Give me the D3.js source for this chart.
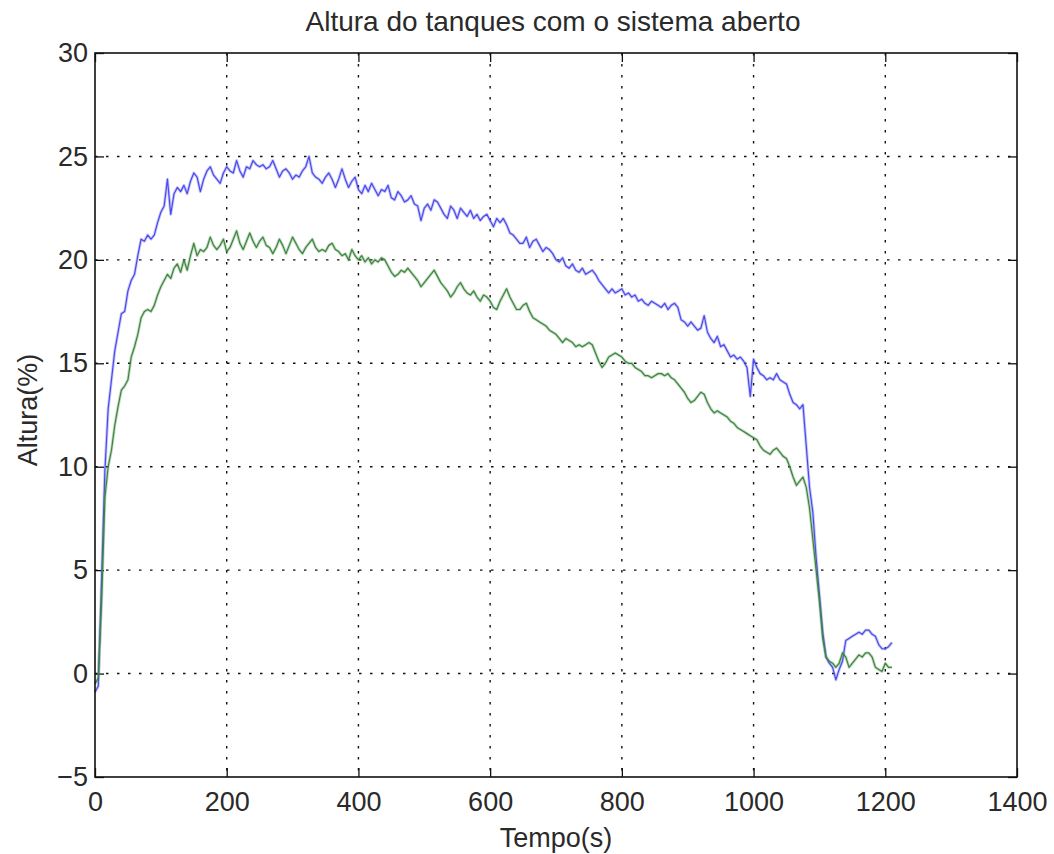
<!DOCTYPE html>
<html>
<head>
<meta charset="utf-8">
<script src="https://cdn.jsdelivr.net/npm/d3@7"></script>
<style>
  html, body { margin: 0; padding: 0; background: #fff; }
  svg { display: block; font-family: "Liberation Sans", Arial, sans-serif; }
</style>
</head>
<body>
<svg id="chart" width="1054" height="854"></svg>
<script>
// Tank level logged every 5 s while the system runs open loop
const sampleStep = 5;

// Tank 1 level (%), one reading per sample
const tank1Level = [
  -0.9, -0.6, 4.5, 9.8, 12.8, 14.2, 15.6, 16.5, 17.4, 17.5,
  18.5, 19.0, 19.3, 20.2, 21.0, 20.9, 21.2, 21.0, 21.2, 21.8,
  22.3, 22.6, 23.9, 22.2, 23.2, 23.5, 23.3, 23.6, 23.2, 23.8,
  24.2, 24.0, 23.3, 23.9, 24.3, 24.5, 24.1, 23.9, 23.7, 24.2,
  24.5, 24.3, 24.2, 24.8, 24.3, 24.0, 24.5, 24.4, 24.8, 24.6,
  24.5, 24.6, 24.4, 24.5, 24.8, 24.4, 24.0, 24.3, 24.4, 24.2,
  23.9, 24.1, 24.0, 24.3, 24.5, 25.0, 24.2, 24.0, 23.9, 23.7,
  24.0, 24.2, 23.9, 23.5, 23.9, 24.4, 23.9, 23.5, 23.8, 24.0,
  23.4, 23.2, 23.6, 23.3, 23.7, 23.4, 23.1, 23.4, 23.3, 23.6,
  23.0, 22.9, 23.3, 23.1, 22.8, 22.9, 23.1, 22.7, 22.6, 21.9,
  22.5, 22.7, 22.4, 22.9, 22.8, 22.5, 22.2, 22.0, 22.6, 22.4,
  22.0, 22.5, 22.3, 22.1, 22.4, 22.0, 22.2, 21.9, 22.1, 22.2,
  21.9, 21.6, 22.0, 21.8, 22.0, 21.7, 21.3, 21.2, 21.0, 20.8,
  20.8, 21.1, 20.6, 20.9, 21.0, 20.7, 20.4, 20.6, 20.5, 20.3,
  20.0, 19.9, 20.1, 19.7, 19.6, 19.8, 19.5, 19.4, 19.6, 19.3,
  19.4, 19.5, 19.3, 19.0, 18.8, 18.6, 18.4, 18.6, 18.4, 18.5,
  18.6, 18.3, 18.4, 18.2, 18.3, 18.0, 18.1, 17.9, 17.8, 18.0,
  17.9, 17.8, 17.7, 17.9, 17.6, 17.8, 17.9, 17.7, 17.1, 17.0,
  16.8, 17.0, 16.8, 16.6, 16.7, 17.3, 16.5, 16.2, 16.0, 16.3,
  15.8, 15.9, 15.6, 15.3, 15.4, 15.2, 15.3, 15.1, 14.8, 13.4,
  15.2, 14.8, 14.5, 14.4, 14.2, 14.3, 14.2, 14.5, 14.2, 14.1,
  14.0, 13.5, 13.1, 13.0, 12.8, 13.0, 11.0, 9.0, 7.8, 5.6,
  3.8, 2.0, 0.8, 0.5, 0.3, -0.3, 0.2, 0.6, 1.6, 1.7,
  1.8, 1.9, 2.0, 1.9, 2.1, 2.1, 1.9, 1.8, 1.4, 1.2,
  1.2, 1.3, 1.5
];

// Tank 2 level (%), same sample instants
const tank2Level = [
  -0.5, -0.2, 3.5, 8.5, 10.0, 10.8, 12.0, 12.9, 13.7, 13.9,
  14.2, 15.3, 15.8, 16.4, 17.2, 17.5, 17.6, 17.5, 17.8, 18.3,
  18.7, 19.0, 19.3, 19.1, 19.6, 19.8, 19.4, 20.0, 19.5, 20.2,
  20.8, 20.2, 20.5, 20.4, 20.6, 21.1, 20.7, 20.5, 20.7, 21.0,
  20.4, 20.6, 21.0, 21.4, 20.8, 20.5, 20.9, 21.3, 20.9, 20.6,
  20.9, 21.1, 20.7, 20.6, 20.3, 20.6, 21.0, 20.7, 20.3, 20.7,
  21.1, 20.8, 20.5, 20.3, 20.6, 20.8, 21.0, 20.6, 20.4, 20.5,
  20.4, 20.7, 20.8, 20.5, 20.4, 20.2, 20.3, 20.0, 20.5, 20.2,
  20.0, 20.2, 19.9, 20.1, 19.8, 20.0, 19.9, 20.1, 20.0, 19.7,
  19.4, 19.2, 19.3, 19.5, 19.4, 19.6, 19.4, 19.2, 19.0, 18.7,
  18.9, 19.1, 19.3, 19.5, 19.2, 18.9, 18.7, 18.5, 18.2, 18.4,
  18.7, 18.9, 18.6, 18.4, 18.3, 18.5, 18.2, 18.0, 18.3, 18.2,
  18.0, 17.7, 17.6, 18.0, 18.3, 18.6, 18.2, 17.9, 17.6, 17.6,
  17.8, 17.9, 17.5, 17.2, 17.1, 17.0, 16.9, 16.8, 16.6, 16.5,
  16.4, 16.2, 16.0, 16.2, 16.1, 16.0, 15.8, 15.9, 15.8, 15.9,
  16.0, 15.9, 15.5, 15.1, 14.8, 15.0, 15.3, 15.4, 15.5, 15.4,
  15.3, 15.1, 15.0, 15.0, 14.8, 14.7, 14.6, 14.4, 14.4, 14.3,
  14.4, 14.5, 14.5, 14.4, 14.5, 14.3, 14.2, 14.0, 13.8, 13.6,
  13.3, 13.1, 13.2, 13.4, 13.6, 13.5, 13.1, 12.8, 12.6, 12.7,
  12.6, 12.5, 12.4, 12.2, 12.1, 11.9, 11.8, 11.7, 11.6, 11.5,
  11.4, 11.3, 11.0, 10.8, 10.7, 10.6, 10.8, 10.9, 10.7, 10.5,
  10.4, 10.0, 9.5, 9.1, 9.3, 9.5, 9.0, 8.0, 6.5, 5.0,
  3.5, 1.7, 0.8, 0.6, 0.5, 0.3, 0.5, 1.0, 0.8, 0.3,
  0.5, 0.7, 0.9, 0.8, 1.0, 1.0, 0.8, 0.3, 0.2, 0.1,
  0.5, 0.3, 0.3
];

const xTicks = [0, 200, 400, 600, 800, 1000, 1200, 1400];
const yTicks = [-5, 0, 5, 10, 15, 20, 25, 30];
const xDomain = [0, 1400];
const yDomain = [-5, 30];

const titleText = "Altura do tanques com o sistema aberto";
const xLabelText = "Tempo(s)";
const yLabelText = "Altura(%)";

const seriesList = [
  { name: "Tanque 1", values: tank1Level, color: "#4a4aec" },
  { name: "Tanque 2", values: tank2Level, color: "#3b863b" }
];

// ---- layout ----
const svg = d3.select("#chart");
const margin = { left: 95, top: 53, right: 1054 - 1017, bottom: 854 - 777 };
const plotW = 1054 - margin.left - margin.right;
const plotH = 854 - margin.top - margin.bottom;

const x = d3.scaleLinear().domain(xDomain).range([0, plotW]);
const y = d3.scaleLinear().domain(yDomain).range([plotH, 0]);

const g = svg.append("g").attr("transform", `translate(${margin.left},${margin.top})`);

const textColor = "#2a2a2a";
const fontSize = 27;

// dotted grid
const gridStyle = sel => sel
  .attr("stroke", "#111")
  .attr("stroke-width", 1.4)
  .attr("stroke-dasharray", "2.5,8.5");

g.append("g").selectAll("line")
  .data(xTicks.filter(d => d > xDomain[0] && d < xDomain[1]))
  .join("line")
  .attr("x1", d => x(d)).attr("x2", d => x(d))
  .attr("y1", 0).attr("y2", plotH)
  .call(gridStyle);

g.append("g").selectAll("line")
  .data(yTicks.filter(d => d > yDomain[0] && d < yDomain[1]))
  .join("line")
  .attr("x1", 0).attr("x2", plotW)
  .attr("y1", d => y(d)).attr("y2", d => y(d))
  .call(gridStyle);

// axes with inward ticks on all four sides
const tickLen = 9;
const styleAxis = sel => {
  sel.select(".domain").remove();
  sel.selectAll(".tick line").attr("stroke", "#111").attr("stroke-width", 1.3);
  sel.selectAll(".tick text")
    .attr("fill", textColor)
    .attr("font-size", fontSize)
    .attr("font-family", "'Liberation Sans', Arial, sans-serif");
};

g.append("g")
  .attr("transform", `translate(0,${plotH})`)
  .call(d3.axisBottom(x).tickValues(xTicks).tickFormat(d3.format("d"))
    .tickSizeInner(-tickLen).tickSizeOuter(0).tickPadding(15))
  .call(styleAxis);

g.append("g")
  .call(d3.axisTop(x).tickValues(xTicks).tickFormat("")
    .tickSizeInner(-tickLen).tickSizeOuter(0))
  .call(styleAxis);

g.append("g")
  .call(d3.axisLeft(y).tickValues(yTicks).tickFormat(d => d < 0 ? "\u2212" + Math.abs(d) : d)
    .tickSizeInner(-tickLen).tickSizeOuter(0).tickPadding(7))
  .call(styleAxis);

g.append("g")
  .attr("transform", `translate(${plotW},0)`)
  .call(d3.axisRight(y).tickValues(yTicks).tickFormat("")
    .tickSizeInner(-tickLen).tickSizeOuter(0))
  .call(styleAxis);

// data lines
const line = d3.line()
  .x((d, i) => x(i * sampleStep))
  .y(d => y(d));

const linesG = g.append("g");
seriesList.forEach(s => {
  // soft halo under the trace
  linesG.append("path")
    .datum(s.values)
    .attr("fill", "none")
    .attr("stroke", s.color)
    .attr("stroke-opacity", 0.3)
    .attr("stroke-width", 3)
    .attr("stroke-linejoin", "round")
    .attr("d", line);
  linesG.append("path")
    .datum(s.values)
    .attr("fill", "none")
    .attr("stroke", s.color)
    .attr("stroke-width", 1.2)
    .attr("stroke-linejoin", "round")
    .attr("d", line);
});

// plot box
g.append("rect")
  .attr("x", 0).attr("y", 0)
  .attr("width", plotW).attr("height", plotH)
  .attr("fill", "none")
  .attr("stroke", "#111")
  .attr("stroke-width", 1.6);

// title and axis labels
svg.append("text")
  .attr("x", 553)
  .attr("y", 31)
  .attr("text-anchor", "middle")
  .attr("font-size", 28)
  .attr("fill", textColor)
  .text(titleText);

svg.append("text")
  .attr("x", 556)
  .attr("y", 847)
  .attr("text-anchor", "middle")
  .attr("font-size", fontSize)
  .attr("fill", textColor)
  .text(xLabelText);

svg.append("text")
  .attr("transform", `translate(37,${margin.top + plotH / 2 - 5}) rotate(-90)`)
  .attr("text-anchor", "middle")
  .attr("font-size", fontSize)
  .attr("fill", textColor)
  .text(yLabelText);
</script>
</body>
</html>
